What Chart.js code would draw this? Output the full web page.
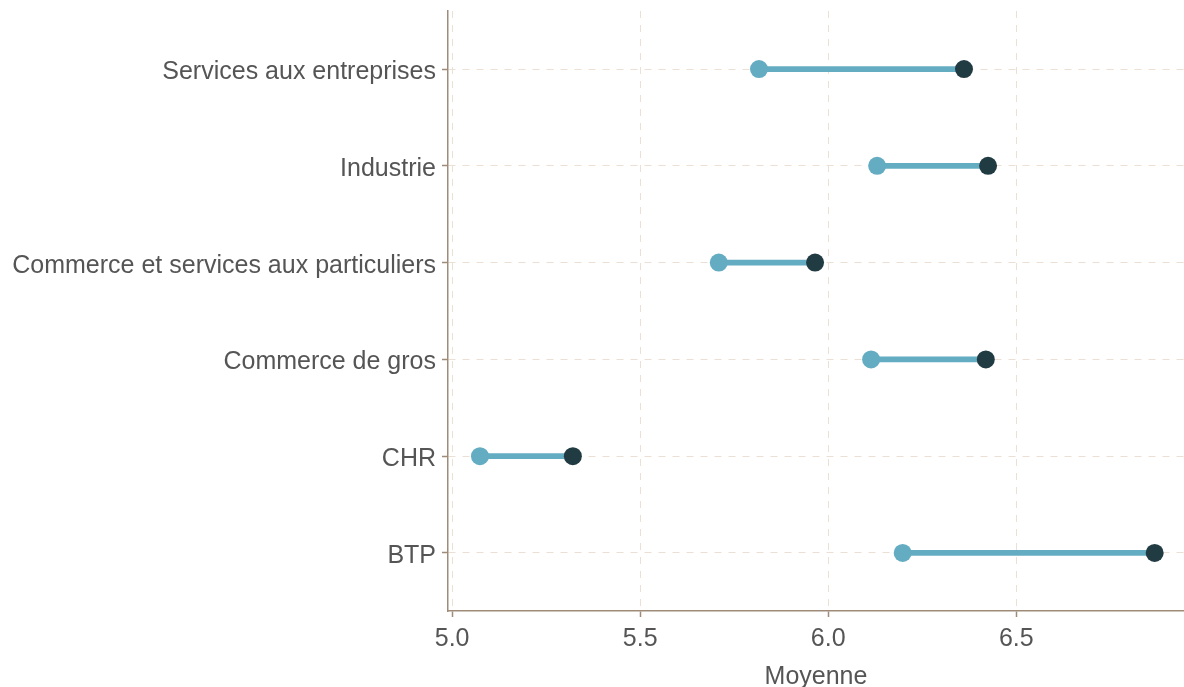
<!DOCTYPE html>
<html>
<head>
<meta charset="utf-8">
<script src="https://cdn.jsdelivr.net/npm/chart.js@4/dist/chart.umd.min.js"></script>
<style>
    body { margin: 0; background: #fff; }
    #wrap { width: 1184px; height: 687px; }
</style>
</head>
<body>
<div id="wrap"><canvas id="dumbbell" width="1184" height="687"></canvas></div>
<script>
const categories = [
    'Services aux entreprises',
    'Industrie',
    'Commerce et services aux particuliers',
    'Commerce de gros',
    'CHR',
    'BTP'
];
const serieClaire = [5.816, 6.130, 5.709, 6.114, 5.074, 6.198];
const serieFoncee = [6.361, 6.425, 5.965, 6.419, 5.321, 6.868];
const xTicks = [5.0, 5.5, 6.0, 6.5];
const xTitle = 'Moyenne';

const axisColor = '#9e8b78';
const gridColor = '#ecdfd3';
const lightColor = '#64acc2';
const darkColor = '#213b43';
const textColor = '#555555';
const fontFamily = 'Liberation Sans, Arial, sans-serif';

// scatter without the extra layout margin reserved for the point radius
const ScatterController = Chart.registry.getController('scatter');
class DotController extends ScatterController {
    getMaxOverflow() { return 0; }
}
DotController.id = 'dots';
Chart.register(DotController);

const segments = categories.map((c, i) => ({ x: [serieClaire[i], serieFoncee[i]], y: i }));
const lightPoints = categories.map((c, i) => ({ x: serieClaire[i], y: i }));
const darkPoints = categories.map((c, i) => ({ x: serieFoncee[i], y: i }));

const config = {
    type: 'scatter',
    data: {
        datasets: [
            {
                type: 'bar',
                indexAxis: 'y',
                data: segments,
                backgroundColor: lightColor,
                barThickness: 5,
                order: 3
            },
            {
                type: 'dots',
                data: lightPoints,
                backgroundColor: lightColor,
                borderColor: lightColor,
                borderWidth: 0,
                pointRadius: 9,
                showLine: false,
                order: 2
            },
            {
                type: 'dots',
                data: darkPoints,
                backgroundColor: darkColor,
                borderColor: darkColor,
                borderWidth: 0,
                pointRadius: 9,
                showLine: false,
                order: 1
            }
        ]
    },
    options: {
        responsive: false,
        animation: false,
        layout: { padding: { top: 11, right: 0, left: 0, bottom: 0 } },
        plugins: {
            legend: { display: false },
            tooltip: { enabled: false }
        },
        scales: {
            x: {
                type: 'linear',
                min: 4.989,
                max: 6.946,
                offset: false,
                afterBuildTicks: (scale) => {
                    scale.ticks = xTicks.map(v => ({ value: v }));
                },
                afterFit: (scale) => {
                    scale.height = 76;
                    scale.paddingLeft = 0;
                    scale.paddingRight = 0;
                },
                border: { color: axisColor, width: 1.5, dash: [7, 7] },
                grid: {
                    offset: false,
                    color: gridColor,
                    lineWidth: 1,
                    tickColor: axisColor,
                    tickLength: 6,
                    tickWidth: 1.5,
                    tickBorderDash: []
                },
                ticks: {
                    color: textColor,
                    font: { family: fontFamily, size: 25 },
                    padding: 7,
                    maxRotation: 0,
                    callback: (v) => Number(v).toFixed(1)
                },
                title: {
                    display: true,
                    text: xTitle,
                    color: textColor,
                    font: { family: fontFamily, size: 25, lineHeight: 1 },
                    padding: { top: 11, bottom: -3 }
                }
            },
            y: {
                type: 'linear',
                reverse: true,
                min: -0.6,
                max: 5.6,
                offset: false,
                afterBuildTicks: (scale) => {
                    scale.ticks = categories.map((c, i) => ({ value: i }));
                },
                afterFit: (scale) => {
                    scale.width = 448;
                    scale.paddingTop = 0;
                    scale.paddingBottom = 0;
                },
                border: { color: axisColor, width: 1.5, dash: [7, 7] },
                grid: {
                    offset: false,
                    color: gridColor,
                    lineWidth: 1,
                    tickColor: axisColor,
                    tickLength: 6,
                    tickWidth: 1.5,
                    tickBorderDash: []
                },
                ticks: {
                    color: textColor,
                    font: { family: fontFamily, size: 25 },
                    padding: 6,
                    labelOffset: 3,
                    callback: (v) => categories[v]
                }
            }
        }
    }
};

const ctx = document.getElementById('dumbbell').getContext('2d');
new Chart(ctx, config);
</script>
</body>
</html>
